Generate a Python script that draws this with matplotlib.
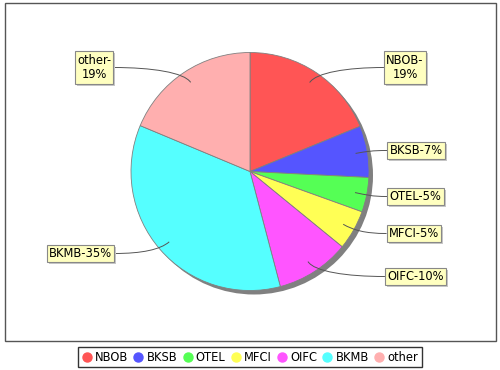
import numpy as np
import matplotlib
matplotlib.use("Agg")
import matplotlib.pyplot as plt
from matplotlib.patches import Circle, Rectangle, PathPatch
from matplotlib.path import Path
from matplotlib.lines import Line2D

# data (share of each slice, %)
names = ["NBOB", "BKSB", "OTEL", "MFCI", "OIFC", "BKMB", "other"]
shares = [18.8, 7.0, 4.7, 5.4, 10.0, 35.4, 18.7]
labels = ["NBOB-\n19%", "BKSB-7%", "OTEL-5%", "MFCI-5%", "OIFC-10%", "BKMB-35%", "other-\n19%"]
colors = ["#ff5555", "#5555ff", "#55ff55", "#ffff55", "#ff55ff", "#55ffff", "#ffafaf"]

# label box centres in pixels (y down) and which side they sit on
label_pos = [(405, 67.5), (416, 150.5), (415.5, 196.5), (414, 233.5),
             (415.5, 276.5), (80.5, 253.5), (94, 67.5)]
label_side = ["r", "r", "r", "r", "r", "l", "l"]

plt.rcParams["font.family"] = "DejaVu Sans"
fs = 8.3

fig = plt.figure(figsize=(5, 3.7), dpi=100)
ax = fig.add_axes([0, 0, 1, 1])

cx, cy, R = 250, 171.5, 119

# y is flipped below, so counterclock in data = clockwise on screen
wedges, _ = ax.pie(shares, colors=colors, startangle=-90, counterclock=True,
                   center=(cx, cy), radius=R, frame=True,
                   wedgeprops=dict(edgecolor="#808080", linewidth=0.6))
for w in wedges:
    w.set_zorder(2)
ax.set_xlim(0, 500)
ax.set_ylim(370, 0)   # pixel coords, y pointing down
ax.set_aspect("equal")
ax.axis("off")

# plot area frame
ax.add_patch(Rectangle((5, 3), 491, 338, fill=False, ec="#555555", lw=1))

# pie shadow
ax.add_patch(Circle((cx + 4, cy + 4), R, fc="#808080", ec="none", zorder=1))

total = sum(shares)
cum = np.cumsum([0] + shares[:-1])
texts = []
for i, lab in enumerate(labels):
    lx, ly = label_pos[i]
    t = ax.text(lx, ly, lab, ha="center", va="center", fontsize=fs, zorder=5,
                multialignment="center",
                bbox=dict(boxstyle="square,pad=0.2", fc="#ffffc0", ec="#888888", lw=0.8))
    texts.append(t)

fig.canvas.draw()
inv = ax.transData.inverted()
for i, t in enumerate(texts):
    lx, ly = label_pos[i]
    bb = t.get_bbox_patch().get_window_extent().transformed(inv)
    x0, x1 = min(bb.x0, bb.x1), max(bb.x0, bb.x1)
    y0, y1 = min(bb.y0, bb.y1), max(bb.y0, bb.y1)
    # box shadow
    ax.add_patch(Rectangle((x0 + 2, y0 + 2), x1 - x0, y1 - y0, fc="#c8c8c8", ec="none", zorder=4))
    # leader curve
    a = np.deg2rad(360 * (cum[i] + shares[i] / 2) / total)
    ex, ey = cx + 0.9 * R * np.sin(a), cy - 0.9 * R * np.cos(a)
    ox, oy = cx + 1.0 * R * np.sin(a), cy - 1.0 * R * np.cos(a)
    sx = x0 if label_side[i] == "r" else x1
    path = Path([(sx, ly), ((sx + ex) / 2, ly), (ox, oy), (ex, ey)],
                [Path.MOVETO, Path.CURVE4, Path.CURVE4, Path.CURVE4])
    ax.add_patch(PathPatch(path, fc="none", ec="#555555", lw=0.7, zorder=3))

handles = [Line2D([], [], ls="none", marker="o", ms=6.5, mfc=c, mec=c) for c in colors]
leg = fig.legend(handles, names, loc="center", bbox_to_anchor=(0.5, 0.034), ncol=7,
                 fontsize=fs, frameon=True, fancybox=False, handlelength=0.8,
                 handletextpad=0.3, columnspacing=0.5, borderpad=0.3, borderaxespad=0)
leg.get_frame().set_edgecolor("black")
leg.get_frame().set_linewidth(1)

fig.savefig("out.png", dpi=100)
